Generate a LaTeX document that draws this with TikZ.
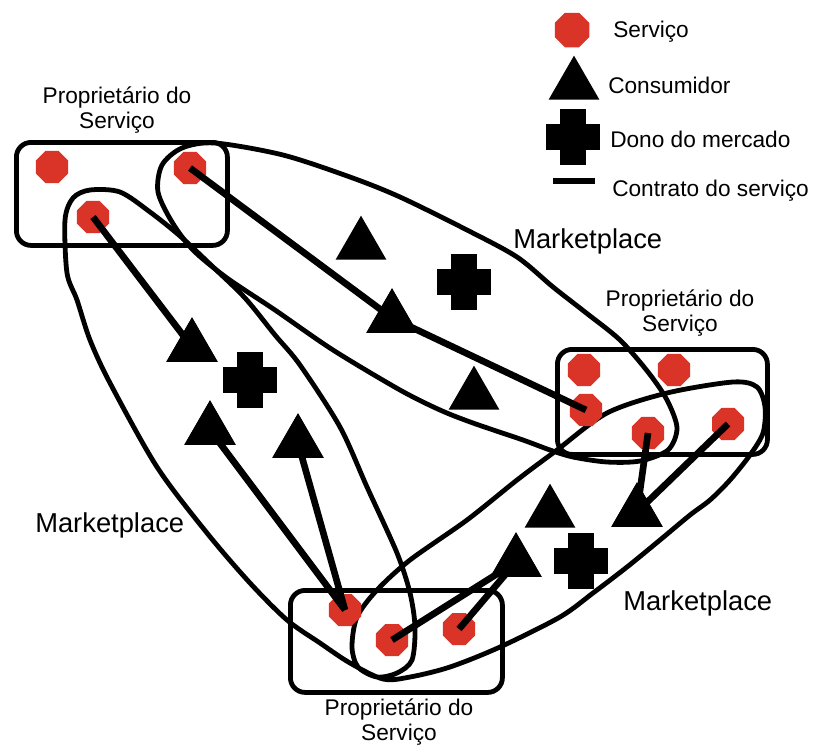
\documentclass[tikz,border=0pt]{standalone}
\usepackage{fontspec}
\setmainfont{Liberation Sans}
\usetikzlibrary{shapes.geometric}
\definecolor{servred}{RGB}{218,52,40}
\begin{document}
\begin{tikzpicture}[x=0.75pt,y=-0.75pt,
  serv/.style={regular polygon, regular polygon sides=8, fill=servred, minimum size=26pt, inner sep=0pt},
  cons/.style={regular polygon, regular polygon sides=3, fill=black, minimum size=44pt, inner sep=0pt},
  dono/.style={minimum width=41pt, minimum height=42pt, inner sep=0pt, path picture={
     \fill ([xshift=-10pt]path picture bounding box.north) rectangle ([xshift=10pt]path picture bounding box.south);
     \fill ([yshift=9.5pt]path picture bounding box.west) rectangle ([yshift=-9.5pt]path picture bounding box.east);}},
  contract/.style={line width=5pt},
  mkt/.style={line width=3.6pt, line join=round},
  ownerbox/.style={draw, line width=3.6pt, rounded corners=11pt},
  lbl/.style={font=\fontsize{17}{19}\selectfont, align=center, inner sep=0pt},
  leg/.style={font=\fontsize{17}{19}\selectfont, anchor=base west, inner sep=0pt},
  mlbl/.style={font=\fontsize{20.5}{23}\selectfont, anchor=base west, inner sep=0pt}]
\useasboundingbox[fill=white] (0,0) rectangle (816,751);

% marketplace loops
\draw[mkt] plot[smooth cycle, tension=0.5] coordinates {
 (215,143) (283,155) (350,177) (400,197) (467,230) (517,257) (553,287) (585,312)
 (620,340) (648,372) (667,400) (677,428) (668,450) (640,461) (607,462) (573,457)
 (550,450) (523,440) (473,423) (440,410) (400,390) (333,350) (275,310) (227,278)
 (193,250) (172,222) (158,192) (162,165) (182,148)};
\draw[mkt] plot[smooth cycle, tension=0.5] coordinates {
 (90,190) (120,192) (150,212) (180,236) (212,266) (245,298) (275,335) (300,365)
 (340,427) (367,487) (397,553) (410,593) (415,627) (412,660) (397,673) (377,677)
 (358,667) (352,647) (357,617) (377,590) (410,560) (467,520) (517,480) (557,450)
 (607,413) (667,393) (733,382) (757,387) (765,407) (763,433) (750,455) (730,480)
 (710,500) (690,515) (660,540) (627,567) (593,593) (560,617) (500,647) (450,667)
 (410,677) (383,679) (350,663) (320,643) (287,620) (250,583) (207,533) (157,467)
 (110,383) (90,340) (77,300) (67,273) (65,220) (73,198)};

% owner boxes
\node[ownerbox, minimum width=158.25pt, minimum height=77.25pt, anchor=north west] (boxtl) at (14,140) {};
\node[ownerbox, minimum width=157.5pt, minimum height=78.75pt, anchor=north west] (boxr) at (555,347) {};
\node[ownerbox, minimum width=159pt, minimum height=76.5pt, anchor=north west] (boxb) at (288,588) {};

% services
\node[serv] (tl1) at (52,167) {};
\node[serv] (tl2) at (190,168) {};
\node[serv] (tl3) at (93,217) {};
\node[serv] (r1) at (584,370) {};
\node[serv] (r2) at (674,370) {};
\node[serv] (r3) at (586,410) {};
\node[serv] (r4) at (648,433) {};
\node[serv] (r5) at (728,424) {};
\node[serv] (b1) at (345,610) {};
\node[serv] (b2) at (392,640) {};
\node[serv] (b3) at (459,629) {};

% consumers
\node[cons] (t1) at (192,347) {};
\node[cons] (t2) at (210,430) {};
\node[cons] (t3) at (298,443) {};
\node[cons] (t4) at (392,318) {};
\node[cons] (t5) at (361,245) {};
\node[cons] (t6) at (474,395) {};
\node[cons] (t7) at (550,513) {};
\node[cons] (t8) at (637,512) {};
\node[cons] (t9) at (516,562) {};

% contracts
\draw[contract] (tl3.center) -- (t1.center);
\draw[contract] (tl2.center) -- (t4.center);
\draw[contract] (r3.center) -- (t4.center);
\draw[contract] (b1.center) -- (t2.center);
\draw[contract] (b1.center) -- (t3.center);
\draw[contract] (b2.center) -- (t9.center);
\draw[contract] (b3.center) -- (t9.center);
\draw[contract] (r4.center) -- (t8.center);
\draw[contract] (r5.center) -- (t8.center);

% redraw triangles on top of contract lines
\foreach \t in {t1,t2,t3,t4,t9,t8}{\fill (\t.corner 1) -- (\t.corner 2) -- (\t.corner 3) -- cycle;}

% market owners
\node[dono] (m1) at (464,282) {};
\node[dono] (m2) at (250,380) {};
\node[dono] (m3) at (581,561) {};

% labels
\node[lbl] (ltl) at (117,110) {Proprietário do\\Serviço};
\node[lbl] (lr) at (680,313) {Proprietário do\\Serviço};
\node[lbl] (lb) at (399,722) {Proprietário do\\Serviço};
\node[mlbl] (mk1) at (513,248) {Marketplace};
\node[mlbl] (mk2) at (35,532) {Marketplace};
\node[mlbl] (mk3) at (623,610) {Marketplace};

% legend
\node[serv, minimum size=28pt] (legs) at (572,30) {};
\node[cons] (legc) at (574,85) {};
\node[dono] (legd) at (573,137) {};
\coordinate (legl1) at (553,181);
\coordinate (legl2) at (595,181);
\draw[contract] (legl1) -- (legl2);
\node[leg] (legst) at (613,37) {Serviço};
\node[leg] (legct) at (608,93) {Consumidor};
\node[leg] (legdt) at (610,147) {Dono do mercado};
\node[leg] (leglt) at (612,196) {Contrato do serviço};
\end{tikzpicture}
\end{document}
